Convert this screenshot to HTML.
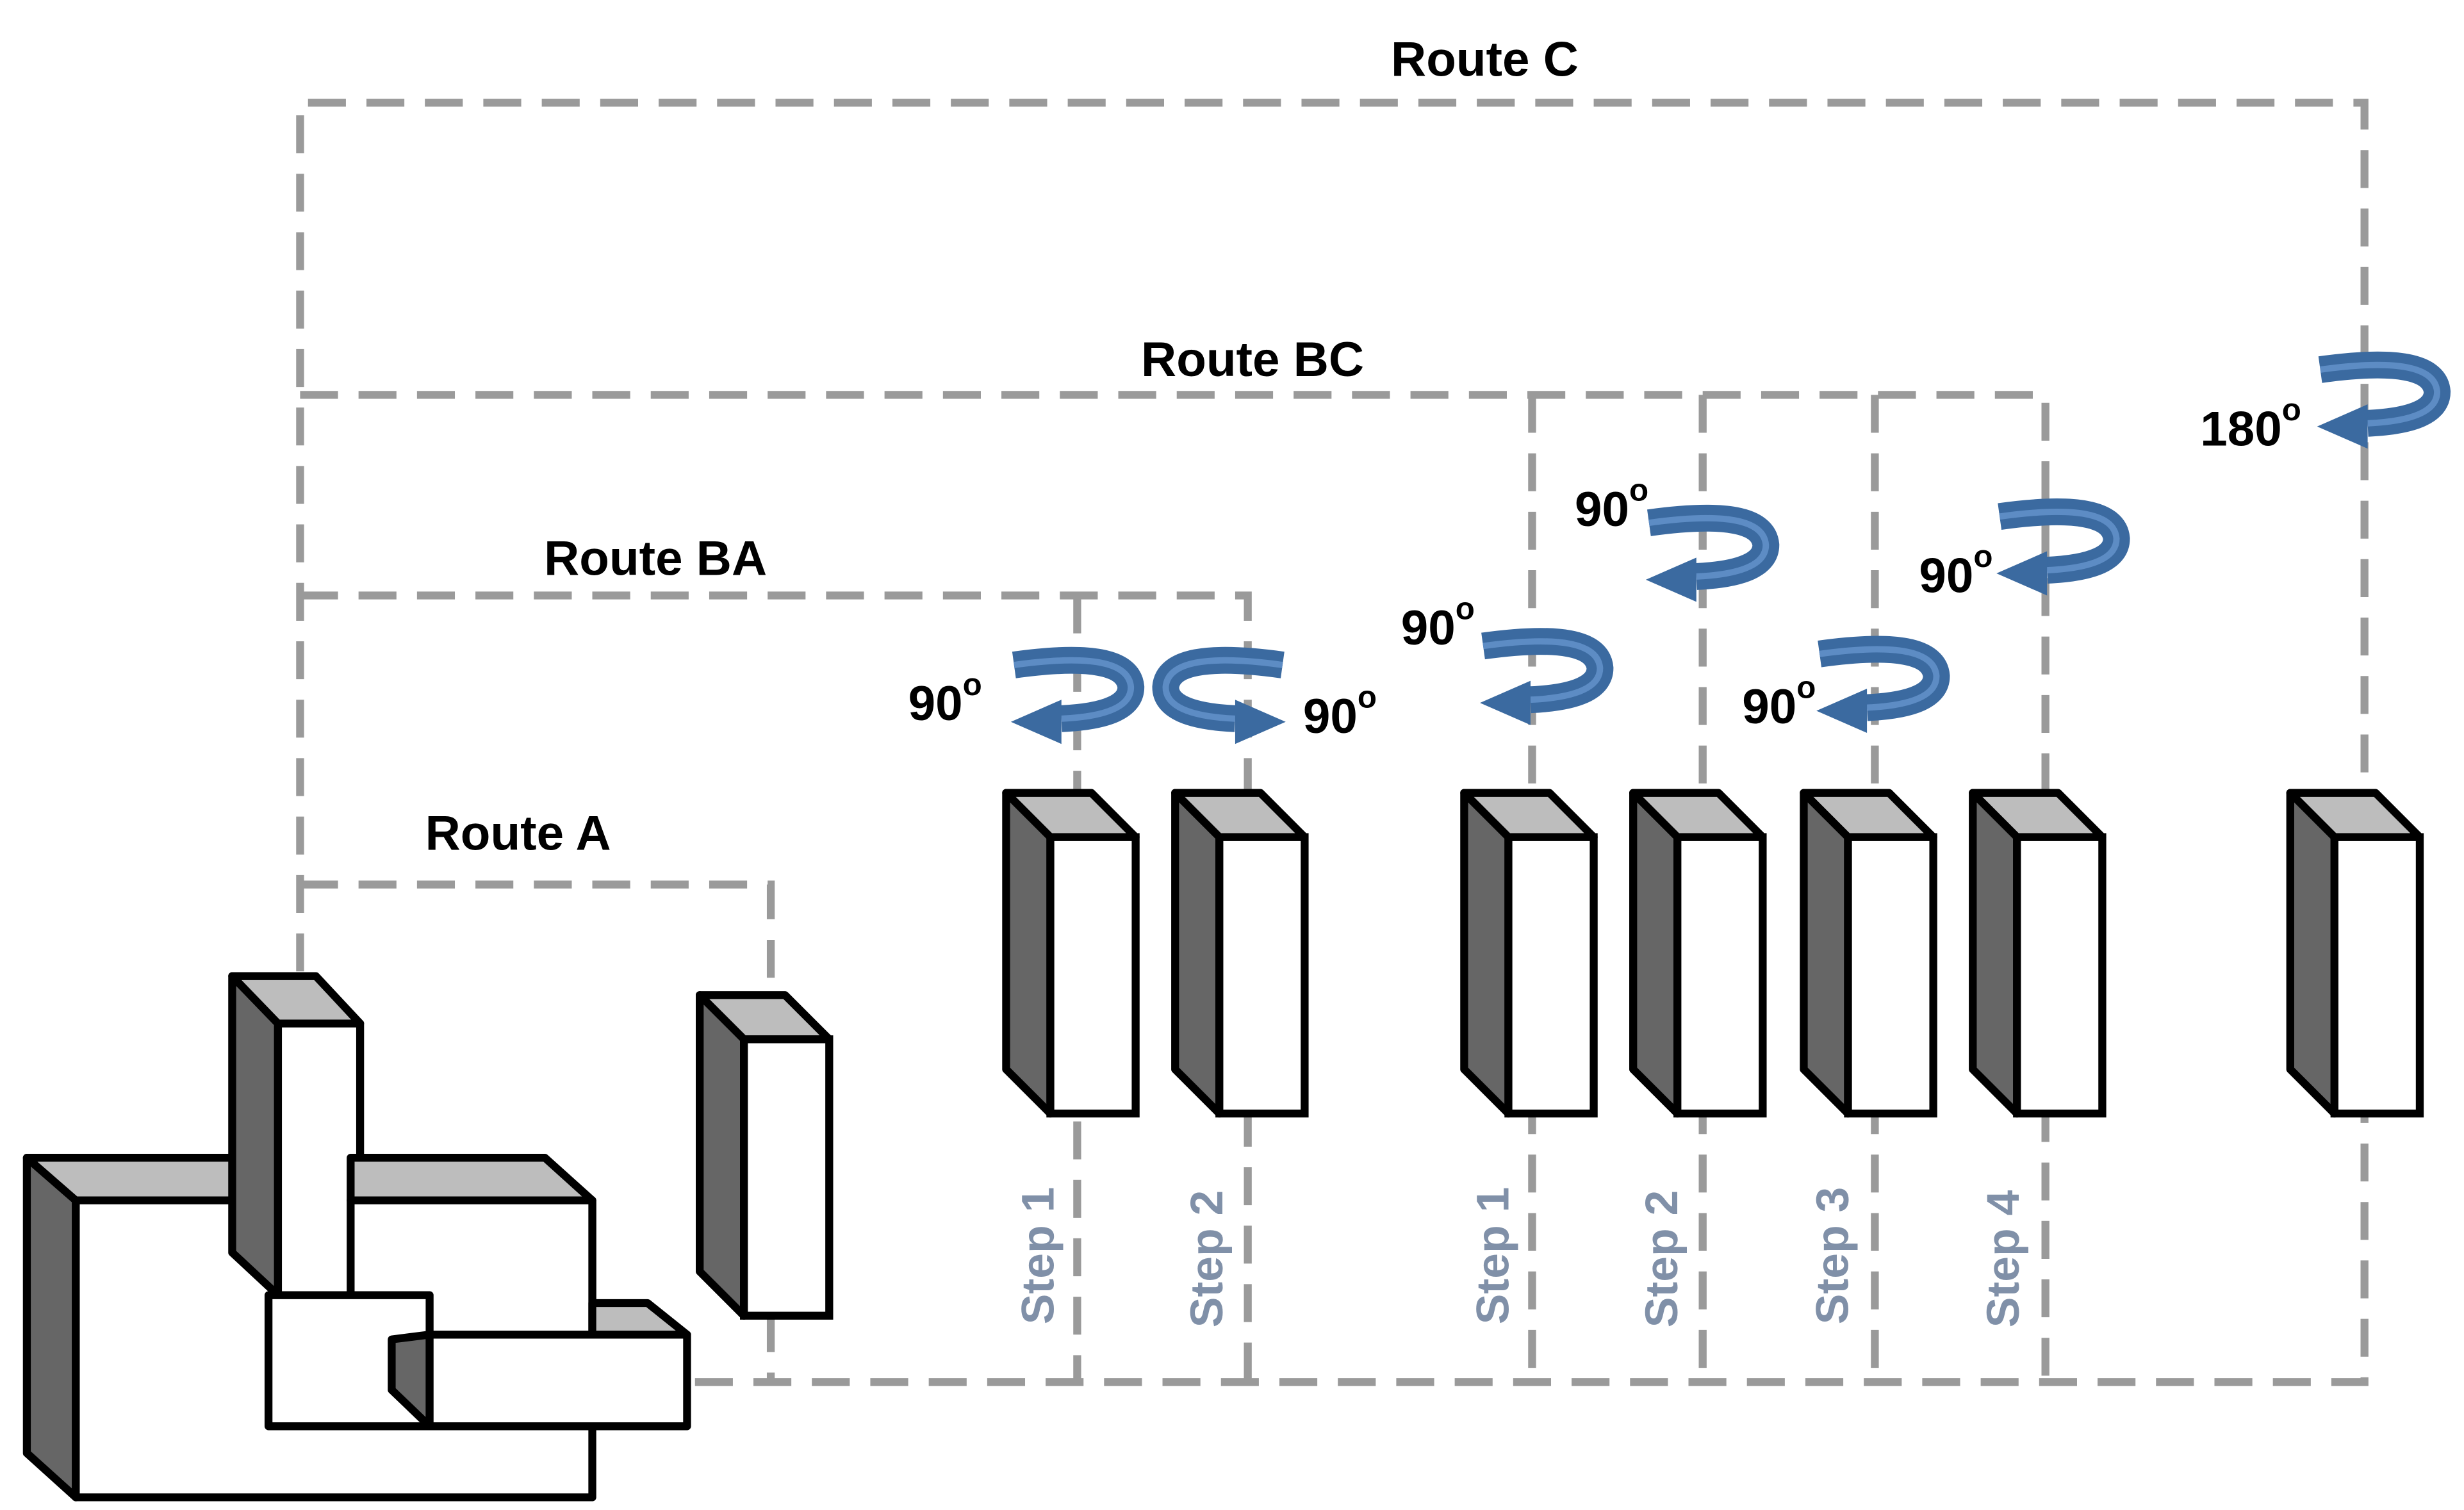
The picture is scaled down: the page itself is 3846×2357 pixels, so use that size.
<!DOCTYPE html>
<html><head><meta charset="utf-8"><style>
html,body{margin:0;padding:0;background:#fff;}
svg{display:block;}
text{font-family:"Liberation Sans",Arial,sans-serif;}
</style></head><body>
<svg width="3846" height="2357" viewBox="0 0 1560 956" xmlns="http://www.w3.org/2000/svg">
<defs>
<g id="blk">
<polygon points="0,0 54,0 82,28 28,28" fill="#bdbdbd" stroke="#000" stroke-width="5" stroke-linejoin="round"/>
<polygon points="0,0 28,28 28,203 0,175" fill="#666" stroke="#000" stroke-width="5" stroke-linejoin="round"/>
<rect x="28" y="28" width="54" height="175" fill="#fff" stroke="#000" stroke-width="5"/>
</g>
<g id="arL">
<path d="M-36,-16 Q36,-26 38,-2 Q38,16 -6,18" fill="none" stroke="#3b6aa0" stroke-width="17"/>
<path d="M-36,-16 Q36,-26 38,-2 Q38,16 -6,18" fill="none" stroke="#5d8cc4" stroke-width="4"/>
<polygon points="-38,20 -6,6 -6,34" fill="#3b6aa0"/>
</g>
</defs>
<g fill="none" stroke="#9a9a9a" stroke-width="5" stroke-dasharray="24,13">
<path d="M190,615 V65 H1497 V875 H435"/>
<path d="M190,250 H1295 V875"/>
<path d="M970,250 V875 M1078,250 V875 M1187,250 V875"/>
<path d="M190,377 H790 V875 M682,377 V875"/>
<path d="M190,560 H488 V630 M488,832 V875"/>
</g>
<use href="#blk" x="443" y="630"/>
<use href="#blk" x="637" y="502"/>
<use href="#blk" x="744" y="502"/>
<use href="#blk" x="927" y="502"/>
<use href="#blk" x="1034" y="502"/>
<use href="#blk" x="1142" y="502"/>
<use href="#blk" x="1249" y="502"/>
<use href="#blk" x="1450" y="502"/>
<!-- machine -->
<g stroke="#000" stroke-width="5" stroke-linejoin="round">
<polygon points="17,733 48,760 48,948 17,920" fill="#666"/>
<polygon points="17,733 148,733 178,760 48,760" fill="#bdbdbd"/>
<rect x="48" y="760" width="327" height="188" fill="#fff"/>
<polygon points="147,618 176,648 176,820 147,793" fill="#666"/>
<polygon points="147,618 200,618 228,648 176,648" fill="#bdbdbd"/>
<rect x="176" y="648" width="52" height="172" fill="#fff"/>
<polygon points="222,733 345,733 375,760 222,760" fill="#bdbdbd"/>
<rect x="222" y="760" width="153" height="85" fill="#fff"/>
<rect x="170" y="820" width="102" height="83" fill="#fff"/>
<polygon points="248,848 272,845 272,903 248,880" fill="#666"/>
<polygon points="375,825 410,825 435,845 375,845" fill="#bdbdbd"/>
<rect x="272" y="845" width="163" height="58" fill="#fff"/>
</g>
<!-- arrows -->
<use href="#arL" x="678" y="437"/>
<use href="#arL" transform="translate(776,437) scale(-1,1)"/>
<use href="#arL" x="975" y="425"/>
<use href="#arL" x="1080" y="347"/>
<use href="#arL" x="1188" y="430"/>
<use href="#arL" x="1302" y="343"/>
<use href="#arL" x="1505" y="250"/>
<g font-weight="bold" font-size="31" fill="#000">
<text x="940" y="48" text-anchor="middle">Route C</text>
<text x="793" y="238" text-anchor="middle">Route BC</text>
<text x="415" y="364" text-anchor="middle">Route BA</text>
<text x="328" y="538" text-anchor="middle">Route A</text>
<text x="575" y="456">90<tspan font-size="20" dy="-16">o</tspan></text>
<text x="825" y="464">90<tspan font-size="20" dy="-16">o</tspan></text>
<text x="887" y="408">90<tspan font-size="20" dy="-16">o</tspan></text>
<text x="997" y="333">90<tspan font-size="20" dy="-16">o</tspan></text>
<text x="1103" y="458">90<tspan font-size="20" dy="-16">o</tspan></text>
<text x="1215" y="375">90<tspan font-size="20" dy="-16">o</tspan></text>
<text x="1393" y="282">180<tspan font-size="20" dy="-16">o</tspan></text>
</g>
<g font-weight="bold" font-size="29" fill="#8090a8">
<text transform="translate(667,795) rotate(-90)" text-anchor="middle">Step 1</text>
<text transform="translate(774,797) rotate(-90)" text-anchor="middle">Step 2</text>
<text transform="translate(955,795) rotate(-90)" text-anchor="middle">Step 1</text>
<text transform="translate(1062,797) rotate(-90)" text-anchor="middle">Step 2</text>
<text transform="translate(1170,795) rotate(-90)" text-anchor="middle">Step 3</text>
<text transform="translate(1278,797) rotate(-90)" text-anchor="middle">Step 4</text>
</g>
</svg>
</body></html>
